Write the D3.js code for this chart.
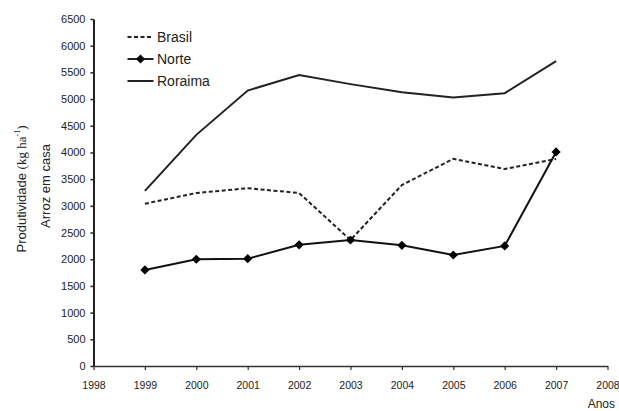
<!DOCTYPE html>
<html>
<head>
<meta charset="utf-8">
<script src="https://cdn.jsdelivr.net/npm/d3@7"></script>
<style>
  html, body { margin: 0; padding: 0; background: #fff; }
  svg { display: block; }
</style>
</head>
<body>
<svg id="chart" width="619" height="411"></svg>
<script>
// Produtividade de arroz (kg/ha), 1999–2007
const years = [1999, 2000, 2001, 2002, 2003, 2004, 2005, 2006, 2007];
const brasil = [3040, 3240, 3330, 3240, 2360, 3390, 3880, 3690, 3880];
const norte = [1800, 2000, 2010, 2270, 2360, 2260, 2080, 2250, 4010];
const roraima = [3280, 4330, 5160, 5450, 5280, 5130, 5030, 5110, 5710];
const xTicks = [1998, 1999, 2000, 2001, 2002, 2003, 2004, 2005, 2006, 2007, 2008];
const yTicks = [0, 500, 1000, 1500, 2000, 2500, 3000, 3500, 4000, 4500, 5000, 5500, 6000, 6500];
const seriesNames = ["Brasil", "Norte", "Roraima"];

const SANS = "'Liberation Sans', Arial, sans-serif";
const SERIF = "'Liberation Serif', 'Times New Roman', serif";

const svg = d3.select("#chart");
const margin = { left: 93.5, right: 11.5, top: 19, bottom: 45 };
const W = 619, H = 411;

const x = d3.scaleLinear().domain([1998, 2008]).range([margin.left, W - margin.right]);
const y = d3.scaleLinear().domain([0, 6500]).range([H - margin.bottom, margin.top]);

// Axes
const xAxis = d3.axisBottom(x).tickValues(xTicks).tickFormat(d3.format("d")).tickSize(4).tickSizeOuter(0);
const yAxis = d3.axisLeft(y).tickValues(yTicks).tickFormat(d3.format("d")).tickSize(3).tickSizeOuter(0);

const gx = svg.append("g").attr("transform", `translate(0,${y(0)})`).call(xAxis);
gx.attr("font-family", null).style("font-family", SANS);
gx.select(".domain").attr("stroke", "#333").attr("stroke-width", 1.5);
gx.selectAll(".tick line").attr("stroke", "#333").attr("stroke-width", 1.2);
gx.selectAll(".tick text").style("font-size", "10.5px").attr("dy", "1.5em").attr("fill", "#222");

const gy = svg.append("g").attr("transform", `translate(${x(1998)},0)`).call(yAxis);
gy.attr("font-family", null).style("font-family", SANS);
gy.select(".domain").attr("stroke", "#222").attr("stroke-width", 2);
gy.selectAll(".tick line").attr("stroke", "#222").attr("stroke-width", 1.5);
gy.selectAll(".tick text").style("font-size", "11px").attr("x", -8).attr("fill", "#222");

// Axis titles
const yt = svg.append("text")
  .attr("transform", `translate(26,189) rotate(-90)`)
  .attr("text-anchor", "middle")
  .style("font-family", SANS)
  .style("font-size", "13px")
  .attr("fill", "#222");
yt.append("tspan").text("Produtividade ");
yt.append("tspan").style("font-family", SERIF).text("(kg ha");
yt.append("tspan").style("font-family", SERIF).style("font-size", "8px").attr("dy", -6).text("-1");
yt.append("tspan").style("font-family", SERIF).attr("dy", 6).text(")");

svg.append("text")
  .attr("transform", `translate(50,186) rotate(-90)`)
  .attr("text-anchor", "middle")
  .style("font-family", SANS)
  .style("font-size", "13px")
  .attr("fill", "#222")
  .text("Arroz em casa");

svg.append("text")
  .attr("x", 615).attr("y", 408)
  .attr("text-anchor", "end")
  .style("font-family", SANS)
  .style("font-size", "12px")
  .attr("fill", "#222")
  .text("Anos");

// Lines
const line = d3.line().x(d => x(d[0])).y(d => y(d[1]));
const zip = vals => years.map((yr, i) => [yr, vals[i]]);

svg.append("path").datum(zip(brasil)).attr("d", line)
  .attr("fill", "none").attr("stroke", "#222").attr("stroke-width", 2)
  .attr("stroke-dasharray", "4,2.5");

svg.append("path").datum(zip(roraima)).attr("d", line)
  .attr("fill", "none").attr("stroke", "#222").attr("stroke-width", 2);

svg.append("path").datum(zip(norte)).attr("d", line)
  .attr("fill", "none").attr("stroke", "#111").attr("stroke-width", 2);

// Diamond markers: squares turned by 45 degrees
const marker = d3.symbol().type(d3.symbolSquare).size(42);
svg.append("g").selectAll("path").data(zip(norte)).join("path")
  .attr("d", marker)
  .attr("transform", d => `translate(${x(d[0])},${y(d[1])}) rotate(45)`)
  .attr("fill", "#000");

// Legend
const legend = svg.append("g");
const ly = [37, 59, 81];
const lx0 = 127.5, lx1 = 153.5;
seriesNames.forEach((name, i) => {
  const g = legend.append("g");
  const ln = g.append("line").attr("x1", lx0).attr("x2", lx1).attr("y1", ly[i]).attr("y2", ly[i])
    .attr("stroke", "#222").attr("stroke-width", 2);
  if (name === "Brasil") ln.attr("stroke-dasharray", "4,2.5");
  if (name === "Norte") g.append("path").attr("d", marker)
    .attr("transform", `translate(${(lx0 + lx1) / 2},${ly[i]}) rotate(45)`).attr("fill", "#000");
  g.append("text").attr("x", 157).attr("y", ly[i]).attr("dy", "0.36em")
    .style("font-family", SANS).style("font-size", "14px").attr("fill", "#222").text(name);
});
</script>
</body>
</html>
